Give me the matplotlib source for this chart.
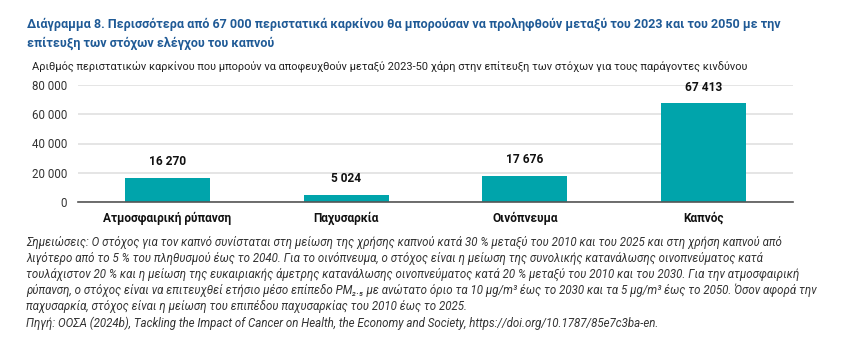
import matplotlib.pyplot as plt

categories = ['Ατμοσφαιρική ρύπανση', 'Παχυσαρκία', 'Οινόπνευμα', 'Καπνός']
values = [16270, 5024, 17676, 67413]
yticks = [0, 20000, 40000, 60000, 80000]

title1 = 'Διάγραμμα 8. Περισσότερα από 67 000 περιστατικά καρκίνου θα μπορούσαν να προληφθούν μεταξύ του 2023 και του 2050 με την'
title2 = 'επίτευξη των στόχων ελέγχου του καπνού'
subtitle = 'Αριθμός περιστατικών καρκίνου που μπορούν να αποφευχθούν μεταξύ 2023-50 χάρη στην επίτευξη των στόχων για τους παράγοντες κινδύνου'
notes = [
    'Σημειώσεις: Ο στόχος για τον καπνό συνίσταται στη μείωση της χρήσης καπνού κατά 30 % μεταξύ του 2010 και του 2025 και στη χρήση καπνού από',
    'λιγότερο από το 5 % του πληθυσμού έως το 2040. Για το οινόπνευμα, ο στόχος είναι η μείωση της συνολικής κατανάλωσης οινοπνεύματος κατά',
    'τουλάχιστον 20 % και η μείωση της ευκαιριακής άμετρης κατανάλωσης οινοπνεύματος κατά 20 % μεταξύ του 2010 και του 2030. Για την ατμοσφαιρική',
    'ρύπανση, ο στόχος είναι να επιτευχθεί ετήσιο μέσο επίπεδο PM₂.₅ με ανώτατο όριο τα 10 μg/m³ έως το 2030 και τα 5 μg/m³ έως το 2050. Όσον αφορά την',
    'παχυσαρκία, στόχος είναι η μείωση του επιπέδου παχυσαρκίας του 2010 έως το 2025.',
    'Πηγή: ΟΟΣΑ (2024b), Tackling the Impact of Cancer on Health, the Economy and Society, https://doi.org/10.1787/85e7c3ba-en.',
]

plt.rcParams['font.family'] = ['Roboto', 'DejaVu Sans']

W, H = 844, 362
fig = plt.figure(figsize=(W / 100, H / 100), dpi=100)
renderer = fig.canvas.get_renderer()


def fx(px):
    return px / W


def fy(py):
    return 1 - py / H


def fit(t, width_px):
    # shrink/grow the font so the line spans the same width as in the reference
    w = t.get_window_extent(renderer).width
    t.set_fontsize(t.get_fontsize() * width_px / w)


t = fig.text(fx(27), fy(24), title1, ha='left', va='center', fontsize=10, fontweight='bold', color='#1f5a96')
fit(t, 776 - 27)
fig.text(fx(27), fy(43), title2, ha='left', va='center', fontsize=t.get_fontsize(), fontweight='bold', color='#1f5a96')
t = fig.text(fx(32), fy(67), subtitle, ha='left', va='center', fontsize=8, color='#222222')
fit(t, 749 - 32)

ax = fig.add_axes([fx(78), fy(202), fx(793) - fx(78), fy(85) - fy(202)])
x = range(len(categories))
ax.bar(x, values, width=0.475, color='#00a4ab', zorder=3)
ax.set_xlim(-0.5, len(categories) - 0.5)
ax.set_ylim(0, 80000)
ax.set_yticks(yticks)
ax.set_yticklabels(['{:,}'.format(v).replace(',', ' ') for v in yticks], fontsize=8.3, color='#333333')
ax.set_xticks(list(x))
ax.set_xticklabels(categories, fontsize=8.6, fontweight='bold', color='#111111')
ax.tick_params(axis='both', length=0)
ax.tick_params(axis='y', pad=8)
ax.tick_params(axis='x', pad=7)
ax.grid(axis='y', color='#e0e0e0', linewidth=1.2, zorder=0)
for s in ['top', 'right', 'left']:
    ax.spines[s].set_visible(False)
ax.spines['bottom'].set_color('#555555')
ax.spines['bottom'].set_linewidth(1.2)
ax.spines['bottom'].set_zorder(4)

for xi, v in zip(x, values):
    ax.annotate('{:,}'.format(v).replace(',', ' '), (xi, v), xytext=(0, 7), textcoords='offset points',
                ha='center', va='bottom', fontsize=8.6, fontweight='bold', color='#111111')

t = fig.text(fx(26), fy(242), notes[0], ha='left', va='center', fontsize=7.5, style='italic', color='#333333')
fit(t, 780 - 26)
size = t.get_fontsize()
for i, line in enumerate(notes[1:], start=1):
    fig.text(fx(26), fy(242 + i * 16.2), line, ha='left', va='center', fontsize=size,
             style='italic', color='#333333')

fig.savefig('out.png', dpi=100)
